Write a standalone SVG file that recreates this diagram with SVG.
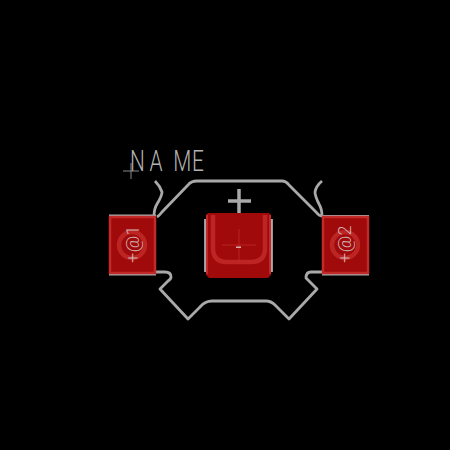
<svg xmlns="http://www.w3.org/2000/svg" width="450" height="450" viewBox="0 0 450 450">
<style>
.o{fill:none;stroke:#a9a9a9;stroke-width:2.8;stroke-linejoin:round}
.p{fill:#a00a0a;stroke:#c22a2a;stroke-width:2.5}
.r{fill:none;stroke:#bd2525;stroke-width:4.500}
.t{fill:#d4b4b4;font-family:"Roboto","Liberation Sans",sans-serif;font-weight:300;font-size:18px;letter-spacing:.5px}
.h{fill:none;stroke:#c22a2a;stroke-width:.8}
</style>
<rect width="450" height="450" fill="#000"/>
<g id="outline">
<path class="o" d="M155 181Q160 186 162 192Q162 196 157 204Q154 209 154 216"/>
<path class="o" d="M157 217Q159 216 162 212L188 185Q191 181 197 181H282Q286 181 289 185L316 212Q319 216 322 216"/>
<path class="o" d="M322 216Q322 209 319 204Q315 196 315 192Q316 186 322 181"/>
<path class="o" d="M156 272H165Q171 272 171 277Q171 279 168 281L160 289L188 319L200 307Q205 301 212 301H266Q271 301 275 305L289 319L317 289L306 278Q306 272 311 272H322"/>
<path class="o" d="M109 216H156M322 216.500H369M109 274H156M322 274H369"/>
<path class="o" d="M205.500 219V272M271.500 219V272"/>
<path class="o" style="stroke-width:3.500" d="M228 201H251M239 189V213"/>
</g>
<g id="pad-1">
<rect class="p" x="110" y="217" width="45" height="56"/>
<circle class="r" cx="132" cy="245" r="13"/>
<text class="t" opacity=".99" transform="translate(138.500 263) rotate(-90)">+@1</text>
</g>
<g id="pad-2">
<rect class="p" x="323" y="217" width="45" height="56"/>
<circle class="r" cx="345" cy="245" r="13"/>
<text class="t" opacity=".99" transform="translate(351 263) rotate(-90)">+@2</text>
</g>
<g id="pad-3">
<path d="M208 213H269L271 215V275L268 278H209L206 275V215Z" fill="#a00a0a"/>
<path class="r" d="M213 215V248Q213 262 227 262H251Q265 262 265 248V215"/>
<path d="M207 215V274M270 215V274" stroke="#c22a2a" stroke-width="2" fill="none"/>
<path class="h" d="M222 245H256M239 229V263"/>
<rect x="236" y="246.500" width="5" height="1.500" fill="#d8b0b0"/>
</g>
<g id="name">
<text opacity=".99" transform="translate(130 171) scale(.72 1)" x="0 27 60 86" y="0" font-family="Roboto,'Liberation Sans',sans-serif" font-weight="300" font-size="29" fill="#b5b5b5">NAME</text>
<path d="M123 171H139M131 163V179" stroke="#8a8a8a" stroke-width="1" fill="none"/>
</g>
</svg>
